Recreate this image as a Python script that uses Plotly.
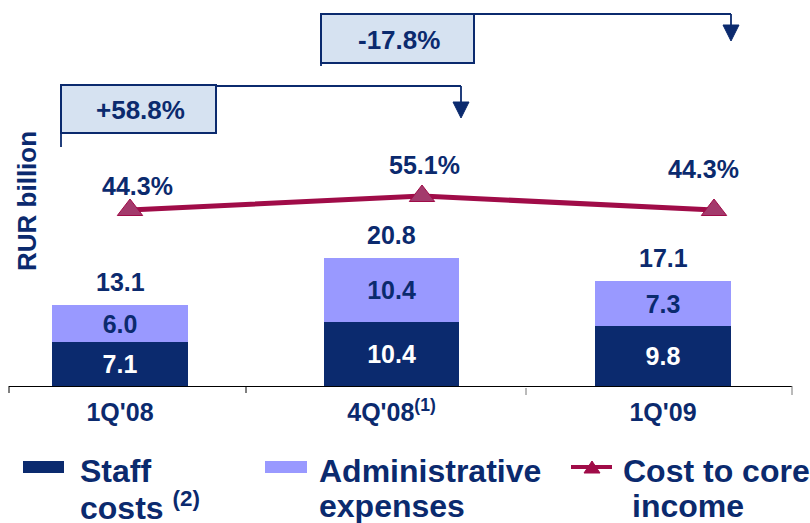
import plotly.graph_objects as go

# ---------------- data ----------------
categories = ["1Q'08", "4Q'08", "1Q'09"]
tick_labels = ["1Q'08", "4Q'08<sup>(1)</sup>", "1Q'09"]
staff_costs = [7.1, 10.4, 9.8]
admin_expenses = [6.0, 10.4, 7.3]
cost_to_core_income = [44.3, 55.1, 44.3]
growth_labels = ["+58.8%", "-17.8%"]

totals = [round(s + a, 1) for s, a in zip(staff_costs, admin_expenses)]

# ---------------- style ----------------
NAVY = "#0B2A6E"
LIGHT = "#9999FF"
CRIMSON = "#A00C48"
MARKER_FILL = "#A33A6C"
BOX_FILL = "#D6E2F1"
FONT = "Liberation Sans, Arial, sans-serif"

W_PX, H_PX = 810, 523
L, R, T, B = 9, 792, 0, 386  # plot area in pixels
PW, PH = R - L, B - T


def px(x):
    return (x - L) / PW


def py(y):
    return (B - y) / PH


fig = go.Figure()

fig.add_trace(go.Bar(
    name="Staff costs", x=categories, y=staff_costs, width=0.5,
    marker=dict(color=NAVY, line=dict(width=0)),
    text=[f"{v:.1f}" for v in staff_costs], textposition="inside",
    insidetextanchor="middle",
    textfont=dict(color="white", size=25, family=FONT, weight="bold"),
    xaxis="x", yaxis="y", showlegend=False, hoverinfo="skip",
))
fig.add_trace(go.Bar(
    name="Administrative expenses", x=categories, y=admin_expenses, width=0.5,
    marker=dict(color=LIGHT, line=dict(width=0)),
    text=[f"{v:.1f}" for v in admin_expenses], textposition="inside",
    insidetextanchor="middle",
    textfont=dict(color=NAVY, size=25, family=FONT, weight="bold"),
    xaxis="x", yaxis="y", showlegend=False, hoverinfo="skip",
))
fig.add_trace(go.Scatter(
    name="Cost to core income", x=categories, y=cost_to_core_income,
    mode="lines+markers",
    line=dict(color=CRIMSON, width=5),
    marker=dict(symbol="triangle-up", size=22, color=MARKER_FILL,
                line=dict(color=CRIMSON, width=1)),
    xaxis="x2", yaxis="y2", showlegend=False, hoverinfo="skip",
))

annotations = []
# totals above bars
for c, t in zip(categories, totals):
    annotations.append(dict(
        x=c, y=t, xref="x", yref="y", text=f"{t:.1f}", showarrow=False,
        yanchor="middle", yshift=23,
        font=dict(size=25, color=NAVY, family=FONT, weight="bold")))

# ratio labels
ratio_shift = [(7, 24), (2, 31), (-11, 41)]
for c, v, (dx, dy) in zip(categories, cost_to_core_income, ratio_shift):
    annotations.append(dict(
        x=c, y=v, xref="x2", yref="y2", text=f"{v:.1f}%", showarrow=False,
        xshift=dx, yshift=dy, yanchor="middle",
        font=dict(size=25, color=NAVY, family=FONT, weight="bold")))

# y-axis title
annotations.append(dict(
    x=px(27), y=py(201), xref="paper", yref="paper", text="RUR billion",
    textangle=-90, showarrow=False, xanchor="center", yanchor="middle",
    font=dict(size=26, color=NAVY, family=FONT, weight="bold")))

# growth boxes text
annotations.append(dict(
    x=px(140), y=py(110), xref="paper", yref="paper", text=growth_labels[0],
    showarrow=False, xanchor="center", yanchor="middle",
    font=dict(size=26, color=NAVY, family=FONT, weight="bold")))
annotations.append(dict(
    x=px(399), y=py(40), xref="paper", yref="paper", text=growth_labels[1],
    showarrow=False, xanchor="center", yanchor="middle",
    font=dict(size=26, color=NAVY, family=FONT, weight="bold")))

# legend texts
leg_font = dict(size=32, color=NAVY, family=FONT, weight="bold")
for x0, text, yc in [
    (78, "Staff", 471), (78, "costs <sup>(2)</sup>", 506),
    (317, "Administrative", 471), (317, "expenses", 506),
    (621, "Cost to core", 471), (630, "income", 506),
]:
    annotations.append(dict(
        x=px(x0), y=py(yc), xref="paper", yref="paper", text=text,
        showarrow=False, xanchor="left", yanchor="middle", align="left",
        font=leg_font))

shapes = []
LW = 1.8
# box 1 (+58.8%)
shapes.append(dict(type="rect", xref="paper", yref="paper",
                   x0=px(61), x1=px(216), y0=py(133), y1=py(85),
                   fillcolor=BOX_FILL, line=dict(color=NAVY, width=2)))
shapes.append(dict(type="line", xref="paper", yref="paper",
                   x0=px(61), x1=px(61), y0=py(85), y1=py(147),
                   line=dict(color=NAVY, width=LW)))
shapes.append(dict(type="line", xref="paper", yref="paper",
                   x0=px(216), x1=px(461), y0=py(86), y1=py(86),
                   line=dict(color=NAVY, width=LW)))
shapes.append(dict(type="line", xref="paper", yref="paper",
                   x0=px(461), x1=px(461), y0=py(86), y1=py(103),
                   line=dict(color=NAVY, width=LW)))
shapes.append(dict(type="path", xref="paper", yref="paper",
                   path=f"M {px(453)} {py(102)} L {px(469)} {py(102)} L {px(461)} {py(118)} Z",
                   fillcolor=NAVY, line=dict(color=NAVY, width=1)))
# box 2 (-17.8%)
shapes.append(dict(type="rect", xref="paper", yref="paper",
                   x0=px(321), x1=px(474), y0=py(63), y1=py(14),
                   fillcolor=BOX_FILL, line=dict(color=NAVY, width=2)))
shapes.append(dict(type="line", xref="paper", yref="paper",
                   x0=px(321), x1=px(321), y0=py(14), y1=py(66),
                   line=dict(color=NAVY, width=LW)))
shapes.append(dict(type="line", xref="paper", yref="paper",
                   x0=px(474), x1=px(731), y0=py(14), y1=py(14),
                   line=dict(color=NAVY, width=LW)))
shapes.append(dict(type="line", xref="paper", yref="paper",
                   x0=px(731), x1=px(731), y0=py(14), y1=py(26),
                   line=dict(color=NAVY, width=LW)))
shapes.append(dict(type="path", xref="paper", yref="paper",
                   path=f"M {px(723)} {py(25)} L {px(739)} {py(25)} L {px(731)} {py(41)} Z",
                   fillcolor=NAVY, line=dict(color=NAVY, width=1)))

# axis ticks
for xt, y0, y1, col in [(9, 386, 393, "black"), (246, 386, 393, "black"),
                        (526, 388, 395, "#777777"), (792, 386, 395, "#777777")]:
    shapes.append(dict(type="line", xref="paper", yref="paper",
                       x0=px(xt), x1=px(xt), y0=py(y0), y1=py(y1),
                       line=dict(color=col, width=1)))

# legend symbols
shapes.append(dict(type="rect", xref="paper", yref="paper",
                   x0=px(23), x1=px(64), y0=py(473), y1=py(461),
                   fillcolor=NAVY, line=dict(width=0)))
shapes.append(dict(type="rect", xref="paper", yref="paper",
                   x0=px(265), x1=px(307), y0=py(473), y1=py(461),
                   fillcolor=LIGHT, line=dict(width=0)))
shapes.append(dict(type="line", xref="paper", yref="paper",
                   x0=px(571), x1=px(612), y0=py(467), y1=py(467),
                   line=dict(color=CRIMSON, width=4)))
shapes.append(dict(type="path", xref="paper", yref="paper",
                   path=f"M {px(584)} {py(473)} L {px(600)} {py(473)} L {px(592)} {py(461)} Z",
                   fillcolor=CRIMSON, line=dict(color=CRIMSON, width=1)))

# axis ranges (bars: centres at 120/394/663 px; line: 130/422/714 px)
bar_unit = 271.5
bar_c0 = 120
x_range = [(L - bar_c0) / bar_unit, (R - bar_c0) / bar_unit]
line_unit = 292
line_c0 = 130
x2_range = [(L - line_c0) / line_unit, (R - line_c0) / line_unit]
y_scale = 6.15  # px per RUR bn
y_range = [0, PH / y_scale]
y2_scale = 1.296
y2_min = 44.3 - (B - 210) / y2_scale
y2_range = [y2_min, y2_min + PH / y2_scale]

fig.update_layout(
    width=W_PX, height=H_PX,
    margin=dict(l=L, r=W_PX - R, t=T, b=H_PX - B, pad=0),
    paper_bgcolor="white", plot_bgcolor="white",
    barmode="stack", bargap=0,
    font=dict(family=FONT, color=NAVY, weight="bold"),
    uniformtext=dict(minsize=25, mode="show"),
    showlegend=False,
    xaxis=dict(type="category", categoryorder="array", categoryarray=categories,
               range=x_range, tickvals=categories, ticktext=tick_labels,
               showline=True, linecolor="black", linewidth=1,
               showgrid=False, zeroline=False, ticks="",
               tickfont=dict(size=25, color=NAVY, family=FONT, weight="bold"),
               ticklabelstandoff=4, fixedrange=True),
    yaxis=dict(range=y_range, visible=False, showgrid=False, fixedrange=True),
    xaxis2=dict(type="category", categoryorder="array", categoryarray=categories,
                range=x2_range, overlaying="x", anchor="y2", visible=False,
                fixedrange=True),
    yaxis2=dict(range=y2_range, overlaying="y", anchor="x2", visible=False,
                showgrid=False, fixedrange=True),
    annotations=annotations,
    shapes=shapes,
)

fig.write_html(
    "out.html",
    config={"displayModeBar": False},
    post_script="document.body.style.margin='0';document.body.style.overflow='hidden';",
)
